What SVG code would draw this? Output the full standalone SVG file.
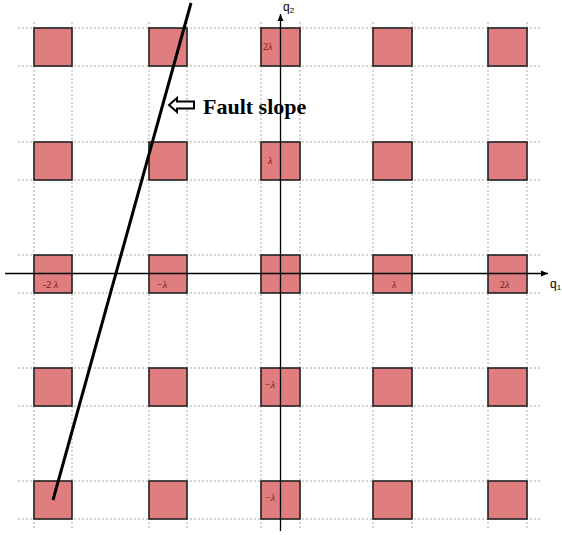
<svg xmlns="http://www.w3.org/2000/svg" width="562" height="535" viewBox="0 0 562 535">
<defs>
<style>
.grid{stroke:#a8a8a8;stroke-width:1;stroke-dasharray:2,2;fill:none}
.sq{fill:#df7d7f;stroke:#222;stroke-width:1.6}
.lab{font-family:"Liberation Serif",serif;font-size:10px;fill:#7a1010}
.ax{stroke:#000;stroke-width:1.3;fill:none}
.axl{font-family:"Liberation Sans",sans-serif;font-size:12px;fill:#000}
</style>
<marker id="ah" markerWidth="8" markerHeight="8" refX="7" refY="4" orient="auto" markerUnits="userSpaceOnUse">
<path d="M0,1 L7,4 L0,7 Z" fill="#000"/>
</marker>
</defs>
<rect width="562" height="535" fill="#fff"/>
<g id="grid">
<path class="grid" d="M34,22V530 M72,22V530 M149,22V530 M187,22V530 M261,22V530 M300,22V530 M373,22V530 M412,22V530 M488,22V530 M527,22V530"/>
<path class="grid" d="M18,28H540 M18,66H540 M18,142H540 M18,180H540 M18,255H540 M18,293H540 M18,368H540 M18,406H540 M18,481H540 M18,519H540"/>
</g>
<g id="squares">
<g id="r1"><rect class="sq" x="34" y="28" width="38" height="38"/><rect class="sq" x="149" y="28" width="38" height="38"/><rect class="sq" x="261" y="28" width="39" height="38"/><rect class="sq" x="373" y="28" width="39" height="38"/><rect class="sq" x="488" y="28" width="39" height="38"/></g>
<g id="r2"><rect class="sq" x="34" y="142" width="38" height="38"/><rect class="sq" x="149" y="142" width="38" height="38"/><rect class="sq" x="261" y="142" width="39" height="38"/><rect class="sq" x="373" y="142" width="39" height="38"/><rect class="sq" x="488" y="142" width="39" height="38"/></g>
<g id="r3"><rect class="sq" x="34" y="255" width="38" height="38"/><rect class="sq" x="149" y="255" width="38" height="38"/><rect class="sq" x="261" y="255" width="39" height="38"/><rect class="sq" x="373" y="255" width="39" height="38"/><rect class="sq" x="488" y="255" width="39" height="38"/></g>
<g id="r4"><rect class="sq" x="34" y="368" width="38" height="38"/><rect class="sq" x="149" y="368" width="38" height="38"/><rect class="sq" x="261" y="368" width="39" height="38"/><rect class="sq" x="373" y="368" width="39" height="38"/><rect class="sq" x="488" y="368" width="39" height="38"/></g>
<g id="r5"><rect class="sq" x="34" y="481" width="38" height="38"/><rect class="sq" x="149" y="481" width="38" height="38"/><rect class="sq" x="261" y="481" width="39" height="38"/><rect class="sq" x="373" y="481" width="39" height="38"/><rect class="sq" x="488" y="481" width="39" height="38"/></g>
</g>
<g id="axes">
<line class="ax" x1="5" y1="273.5" x2="548" y2="273.5" marker-end="url(#ah)"/>
<line class="ax" x1="280.5" y1="531" x2="280.5" y2="14" marker-end="url(#ah)"/>
<text class="axl" x="550" y="288">q<tspan font-size="8" dy="2">1</tspan></text>
<text class="axl" x="283" y="11">q<tspan font-size="8" dy="2">2</tspan></text>
</g>
<g id="labels">
<text class="lab" x="263" y="50">2<tspan font-style="italic">λ</tspan></text>
<text class="lab" x="268" y="164" font-style="italic">λ</text>
<text class="lab" x="43" y="288">-2 <tspan font-style="italic">λ</tspan></text>
<text class="lab" x="157" y="288">−<tspan font-style="italic">λ</tspan></text>
<text class="lab" x="392" y="288" font-style="italic">λ</text>
<text class="lab" x="500" y="288">2<tspan font-style="italic">λ</tspan></text>
<text class="lab" x="265" y="388">−<tspan font-style="italic">λ</tspan></text>
<text class="lab" x="265" y="501">−<tspan font-style="italic">λ</tspan></text>
</g>
<g id="fault">
<line x1="191" y1="3" x2="53" y2="500" stroke="#000" stroke-width="3"/>
<path d="M169,105 L177,98 L177,101.5 L194,101.5 L194,108.5 L177,108.5 L177,112 Z" fill="#fff" stroke="#000" stroke-width="2" stroke-linejoin="miter"/>
<text x="203" y="114" font-family="Liberation Serif,serif" font-weight="bold" font-size="22" fill="#000">Fault slope</text>
</g>
</svg>
